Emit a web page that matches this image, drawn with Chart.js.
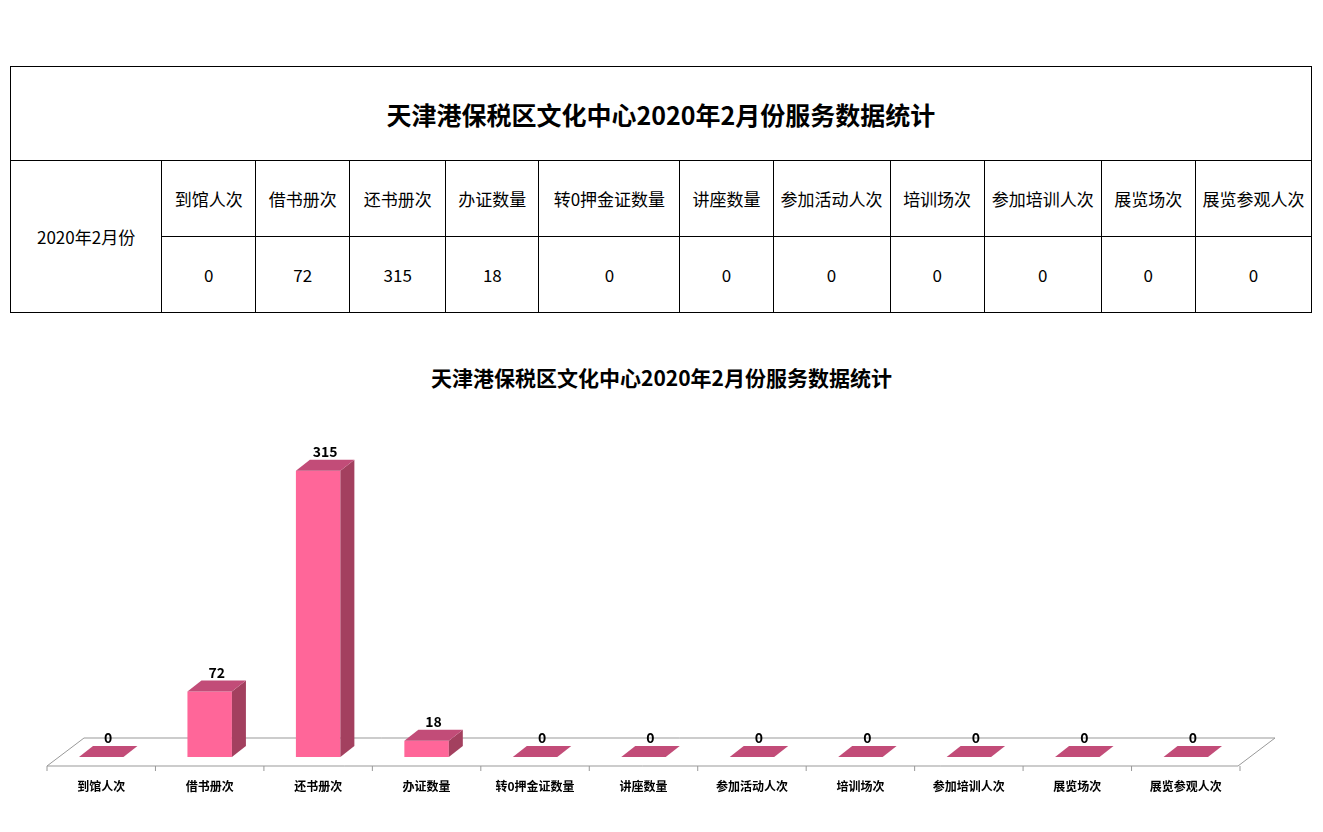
<!DOCTYPE html>
<html><head><meta charset="utf-8">
<script src="https://cdn.jsdelivr.net/npm/chart.js@4"></script>
<style>
body{margin:0;width:1323px;height:832px;background:#fff;font-family:"Noto Sans CJK SC","Noto Sans",sans-serif;position:relative;overflow:hidden}
table{position:absolute;left:10px;top:66px;border-collapse:collapse;width:1302px}
td{border:1px solid #000;text-align:center;font-size:17px;padding:0;white-space:nowrap}
#t2{position:absolute;top:362px;left:0;width:1323px;text-align:center;font-size:21px;font-weight:bold}
#cw{position:absolute;left:0;top:340px;width:1323px;height:492px}
</style></head><body>
<table id="tb"></table>
<div id="t2">天津港保税区文化中心2020年2月份服务数据统计</div>
<div id="cw"><canvas id="c"></canvas></div>
<script>
const categories=["到馆人次","借书册次","还书册次","办证数量","转0押金证数量","讲座数量","参加活动人次","培训场次","参加培训人次","展览场次","展览参观人次"];
const values=[0,72,315,18,0,0,0,0,0,0,0];
const title="天津港保税区文化中心2020年2月份服务数据统计";
const colW=[151,94,94,96,93,141,93,117,94,117,94,116];
let h='<colgroup>'+colW.map(w=>`<col style="width:${w}px">`).join('')+'</colgroup>';
h+=`<tr style="height:94px"><td colspan="12" style="font-size:25px;font-weight:bold">${title}</td></tr>`;
h+=`<tr style="height:76px"><td rowspan="2">2020年2月份</td>`+categories.map(c=>`<td>${c}</td>`).join('')+'</tr>';
h+='<tr style="height:76px">'+values.map(v=>`<td>${v}</td>`).join('')+'</tr>';
document.getElementById('tb').innerHTML=h;
const DX=14,DY=-11;
const plug={id:'p3d',
beforeDatasetsDraw(ch){const c=ch.ctx,a=ch.chartArea,y0=ch.scales.y.getPixelForValue(0);
 c.save();c.strokeStyle='#999';c.lineWidth=1;c.beginPath();
 const fy=y0+9,by=y0-19;c.moveTo(a.left,fy);c.lineTo(a.right-2,fy);c.lineTo(a.right+35,by);c.lineTo(a.left+37,by);c.closePath();c.stroke();
 const n=categories.length,w=(a.right-a.left)/n;
 for(let i=0;i<=n;i++){const x=a.left+i*w;c.beginPath();c.moveTo(x,fy);c.lineTo(x,fy+5);c.stroke();}
 c.fillStyle='#000';c.font='bold 12px "Noto Sans CJK SC"';c.textAlign='center';c.textBaseline='middle';
 categories.forEach((t,i)=>c.fillText(t,a.left+(i+0.5)*w,y0+29));
 c.restore();},
afterDatasetsDraw(ch){const c=ch.ctx,y0=ch.scales.y.getPixelForValue(0);
 ch.getDatasetMeta(0).data.forEach((b,i)=>{const l=b.x-b.width/2,r=b.x+b.width/2,t=b.y;
  c.fillStyle='#A3405F';c.beginPath();c.moveTo(r,t);c.lineTo(r+DX,t+DY);c.lineTo(r+DX,y0+DY);c.lineTo(r,y0);c.fill();
  c.fillStyle='#C24C78';c.beginPath();c.moveTo(l,t);c.lineTo(r,t);c.lineTo(r+DX,t+DY);c.lineTo(l+DX,t+DY);c.fill();
  c.fillStyle='#000';c.font='bold 14px "Noto Sans CJK SC"';c.textAlign='center';c.textBaseline='bottom';
  c.fillText(values[i],b.x+DX/2,t+DY-1);});}};
new Chart(document.getElementById('c'),{type:'bar',
data:{labels:categories,datasets:[{data:values,backgroundColor:'#FF6699',barPercentage:0.41,categoryPercentage:1}]},
options:{responsive:true,maintainAspectRatio:false,animation:false,events:[],
layout:{padding:{left:47,right:83,top:99,bottom:75}},
plugins:{legend:{display:false},tooltip:{enabled:false}},
scales:{x:{display:false},y:{display:false,min:0,max:350}}},plugins:[plug]});
</script></body></html>
